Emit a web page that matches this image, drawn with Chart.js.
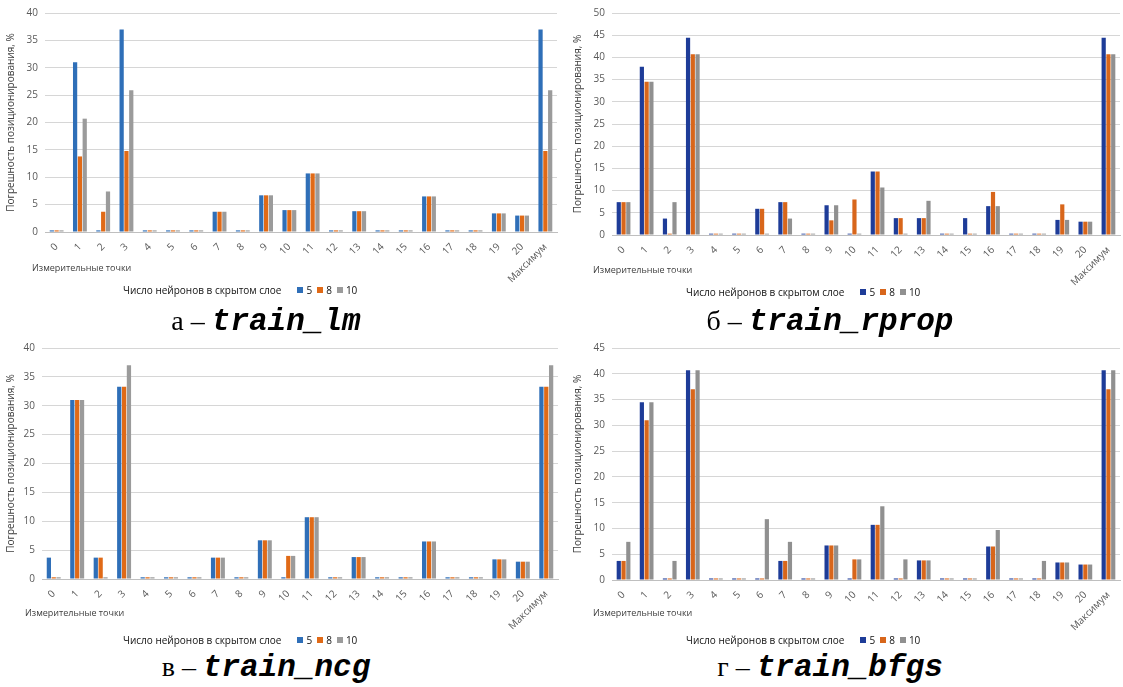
<!DOCTYPE html>
<html>
<head>
<meta charset="utf-8">
<script src="https://cdn.jsdelivr.net/npm/chart.js@4.4.1/dist/chart.umd.min.js"></script>
<style>
  body { margin: 0; background: #fff; width: 1123px; height: 687px; position: relative; overflow: hidden; font-family: 'Open Sans', sans-serif; }
  canvas { position: absolute; }
  .xt { position: absolute; font-size: 9px; color: #404040; line-height: 12px; white-space: nowrap; }
  .leg { position: absolute; font-size: 10px; color: #111; line-height: 14px; display: flex; align-items: center; white-space: nowrap; }
  .leg i { display: inline-block; width: 6px; height: 6px; margin: 0 3px 0 5px; }
  .leg i:first-of-type { margin-left: 16px; }
  .cap { position: absolute; transform: translate(-50%, -50%); white-space: nowrap; line-height: 34px; }
  .cap .s { font-family: 'Liberation Serif', serif; font-size: 28px; }
  .cap .m { font-family: 'Liberation Mono', monospace; font-weight: bold; font-style: italic; font-size: 31px; }
</style>
</head>
<body>
<canvas id="c-lm" width="562" height="300" style="left:0;top:0"></canvas>
<canvas id="c-rprop" width="556" height="300" style="left:567px;top:0"></canvas>
<canvas id="c-ncg" width="563" height="300" style="left:0;top:335px"></canvas>
<canvas id="c-bfgs" width="556" height="300" style="left:567px;top:335px"></canvas>

<div class="xt" style="left:32px;top:262px">Измерительные точки</div>
<div class="xt" style="left:593px;top:264px">Измерительные точки</div>
<div class="xt" style="left:25px;top:607px">Измерительные точки</div>
<div class="xt" style="left:593px;top:607px">Измерительные точки</div>

<div class="leg" id="leg-lm" style="left:123px;top:283px"></div>
<div class="leg" id="leg-rprop" style="left:686px;top:285px"></div>
<div class="leg" id="leg-ncg" style="left:123px;top:633px"></div>
<div class="leg" id="leg-bfgs" style="left:686px;top:633px"></div>

<div class="cap" style="left:266px;top:322px"><span class="s">а – </span><span class="m">train_lm</span></div>
<div class="cap" style="left:830px;top:322px"><span class="s">б – </span><span class="m">train_rprop</span></div>
<div class="cap" style="left:266px;top:668px"><span class="s">в – </span><span class="m">train_ncg</span></div>
<div class="cap" style="left:830px;top:668px"><span class="s">г – </span><span class="m">train_bfgs</span></div>

<script>
// измерительные точки 0..20 + максимум
const points = ['0','1','2','3','4','5','6','7','8','9','10','11','12','13','14','15','16','17','18','19','20','Максимум'];
const neurons = ['5', '8', '10'];
const legendTitle = 'Число нейронов в скрытом слое';
const yTitle = 'Погрешность позиционирования, %';

// а – train_lm
const lm5  = [0.3, 31.0, 0.3, 37.0, 0.3, 0.3, 0.3, 3.7, 0.3, 6.7, 4.0, 10.7, 0.3, 3.8, 0.3, 0.3, 6.5, 0.3, 0.3, 3.4, 3.0, 37.0];
const lm8  = [0.3, 13.8, 3.7, 14.8, 0.3, 0.3, 0.3, 3.7, 0.3, 6.7, 4.0, 10.7, 0.3, 3.8, 0.3, 0.3, 6.5, 0.3, 0.3, 3.4, 3.0, 14.8];
const lm10 = [0.3, 20.7, 7.4, 25.9, 0.3, 0.3, 0.3, 3.7, 0.3, 6.7, 4.0, 10.7, 0.3, 3.8, 0.3, 0.3, 6.5, 0.3, 0.3, 3.4, 3.0, 25.9];

// б – train_rprop
const rprop5  = [7.4, 37.9, 3.7, 44.4, 0.3, 0.3, 5.9, 7.4, 0.3, 6.7, 0.3, 14.3, 3.8, 3.8, 0.3, 3.8, 6.5, 0.3, 0.3, 3.4, 3.0, 44.4];
const rprop8  = [7.4, 34.5, 0.3, 40.7, 0.3, 0.3, 5.9, 7.4, 0.3, 3.3, 8.0, 14.3, 3.8, 3.8, 0.3, 0.3, 9.7, 0.3, 0.3, 6.9, 3.0, 40.7];
const rprop10 = [7.4, 34.5, 7.4, 40.7, 0.3, 0.3, 0.3, 3.7, 0.3, 6.7, 0.3, 10.7, 0.3, 7.7, 0.3, 0.3, 6.5, 0.3, 0.3, 3.4, 3.0, 40.7];

// в – train_ncg
const ncg5  = [3.7, 31.0, 3.7, 33.3, 0.3, 0.3, 0.3, 3.7, 0.3, 6.7, 0.3, 10.7, 0.3, 3.8, 0.3, 0.3, 6.5, 0.3, 0.3, 3.4, 3.0, 33.3];
const ncg8  = [0.3, 31.0, 3.7, 33.3, 0.3, 0.3, 0.3, 3.7, 0.3, 6.7, 4.0, 10.7, 0.3, 3.8, 0.3, 0.3, 6.5, 0.3, 0.3, 3.4, 3.0, 33.3];
const ncg10 = [0.3, 31.0, 0.3, 37.0, 0.3, 0.3, 0.3, 3.7, 0.3, 6.7, 4.0, 10.7, 0.3, 3.8, 0.3, 0.3, 6.5, 0.3, 0.3, 3.4, 3.0, 37.0];

// г – train_bfgs
const bfgs5  = [3.7, 34.5, 0.3, 40.7, 0.3, 0.3, 0.3, 3.7, 0.3, 6.7, 0.3, 10.7, 0.3, 3.8, 0.3, 0.3, 6.5, 0.3, 0.3, 3.4, 3.0, 40.7];
const bfgs8  = [3.7, 31.0, 0.3, 37.0, 0.3, 0.3, 0.3, 3.7, 0.3, 6.7, 4.0, 10.7, 0.3, 3.8, 0.3, 0.3, 6.5, 0.3, 0.3, 3.4, 3.0, 37.0];
const bfgs10 = [7.4, 34.5, 3.7, 40.7, 0.3, 0.3, 11.8, 7.4, 0.3, 6.7, 4.0, 14.3, 4.0, 3.8, 0.3, 0.3, 9.7, 0.3, 3.7, 3.4, 3.0, 40.7];

const lightColors = ['#2f6fb8', '#e06a17', '#9b9b9b'];
const darkColors  = ['#1e3c98', '#d8661b', '#909090'];

function makeChart(id, series, colors, yMax, opt) {
  new Chart(document.getElementById(id), {
    type: 'bar',
    data: {
      labels: points,
      datasets: series.map((d, i) => ({
        label: neurons[i], data: d, backgroundColor: colors[i],
        categoryPercentage: 0.62, barPercentage: 0.88,
      }))
    },
    options: {
      responsive: false,
      animation: false,
      layout: { padding: { top: opt.top, right: opt.right, left: 0, bottom: 0 } },
      plugins: { legend: { display: false }, tooltip: { enabled: false } },
      scales: {
        x: {
          grid: { display: false },
          border: { color: '#bfbfbf' },
          ticks: { color: '#595959', font: { family: 'Open Sans', size: 10 }, maxRotation: 45, minRotation: 45, autoSkip: false, padding: 1 },
          afterFit: s => { s.height = opt.xh; },
        },
        y: {
          min: 0, max: yMax,
          grid: { color: '#d6d6d6', drawTicks: false },
          border: { display: false },
          ticks: { stepSize: 5, color: '#595959', font: { family: 'Open Sans', size: 10 }, padding: 7 },
          title: { display: true, text: yTitle, color: '#404040', font: { family: 'Open Sans', size: 10 }, padding: { top: 5, bottom: 0 } },
          afterFit: s => { s.width = opt.yw; },
        }
      }
    }
  });
  const leg = document.getElementById('leg-' + id.slice(2));
  leg.innerHTML = '<span>' + legendTitle + '</span>' +
    neurons.map((n, i) => '<i style="background:' + colors[i] + '"></i><span>' + n + '</span>').join('');
}

makeChart('c-lm',    [lm5, lm8, lm10],          lightColors, 40, { top: 5, right: 5, yw: 45, xh: 68 });
makeChart('c-rprop', [rprop5, rprop8, rprop10], darkColors,  50, { top: 9, right: 3, yw: 45, xh: 65 });
makeChart('c-ncg',   [ncg5, ncg8, ncg10],       lightColors, 40, { top: 0, right: 5, yw: 42, xh: 56 });
makeChart('c-bfgs',  [bfgs5, bfgs8, bfgs10],    darkColors,  45, { top: 3, right: 3, yw: 45, xh: 55 });
</script>
</body>
</html>
